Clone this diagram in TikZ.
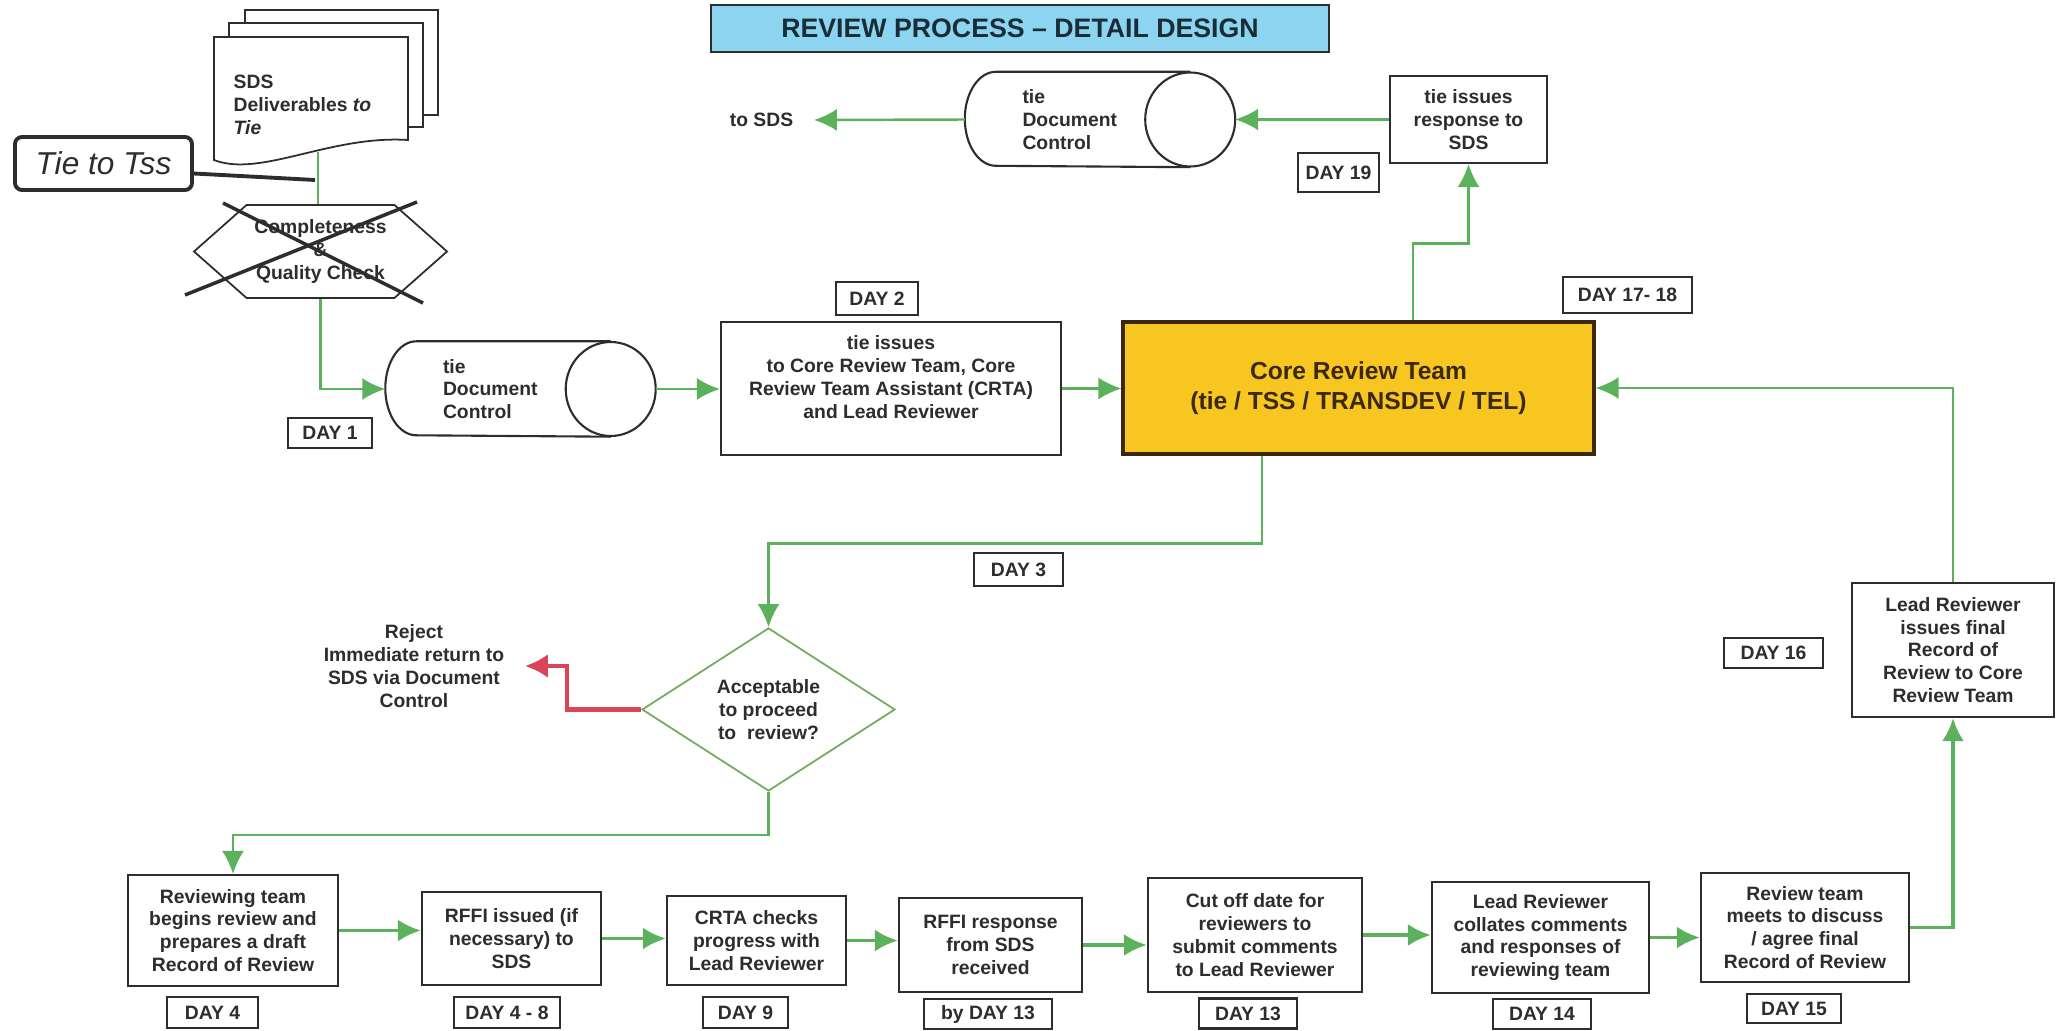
\documentclass[tikz,border=0pt]{standalone}
\usepackage{fontspec}
\setmainfont{Liberation Sans}
\usetikzlibrary{arrows.meta,calc,shapes.geometric,shapes.symbols}

\definecolor{flowgreen}{RGB}{92,178,92}
\definecolor{rejectred}{RGB}{220,68,88}
\definecolor{titleblue}{RGB}{140,212,240}
\definecolor{titleink}{RGB}{25,45,55}
\definecolor{coreyellow}{RGB}{247,198,32}
\definecolor{corebrown}{RGB}{60,40,12}
\definecolor{inkgray}{RGB}{45,45,45}
\definecolor{diamondgreen}{RGB}{112,172,92}

\tikzset{
  txt/.style={font=\fontsize{5.5}{6.5}\selectfont\bfseries, text=inkgray, align=center},
  stepbox/.style={txt, shape=rectangle, draw=inkgray, line width=0.6pt, fill=white, inner sep=0pt},
  daybox/.style={txt, shape=rectangle, draw=inkgray, line width=0.6pt, fill=white, inner sep=0pt},
  docctrl/.style={txt, align=left, text width=1.41cm, inner xsep=0.26cm, inner ysep=0pt, minimum height=0.94cm},
  flow/.style={draw=flowgreen, line width=0.7pt, -{Latex[length=2.3mm,width=2.2mm]}},
  flowthick/.style={flow, line width=1.1pt},
  rejectflow/.style={draw=rejectred, line width=1.2pt, -{Latex[length=2.3mm,width=2.4mm]}}
}

\begin{document}
\begin{tikzpicture}
  % Paths, nodes and wires:
  \useasboundingbox (0,0) rectangle (20.62,10.30);
  \node[shape=rectangle, draw=inkgray, line width=0.6pt, fill=titleblue, minimum width=6.18cm, minimum height=0.47cm, font=\fontsize{7.6}{9}\selectfont\bfseries, text=titleink] (title) at (10.20,10.015) {REVIEW PROCESS – DETAIL DESIGN};

  \draw[line width=0.5pt, draw=inkgray, fill=white] (2.45,9.15) rectangle (4.38,10.20);
  \draw[line width=0.5pt, draw=inkgray, fill=white] (2.29,9.03) rectangle (4.23,10.07);
  \draw[line width=0.5pt, draw=inkgray, fill=white] (2.14,8.70) -- (2.14,9.93) -- (4.08,9.93) -- (4.08,8.90) .. controls (3.30,8.95) and (2.60,8.52) .. (2.14,8.70) -- cycle;
  \node[txt, align=left, anchor=west, inner sep=0pt] (sds) at (2.33,9.25) {SDS\\Deliverables \textit{to}\\\textit{Tie}};
  \coordinate (sdsb) at (3.18,8.78);

  \node[shape=rectangle, rounded corners=2pt, draw=inkgray, line width=1.1pt, minimum width=1.77cm, minimum height=0.53cm, font=\fontsize{9}{10}\selectfont\itshape, text=inkgray] (tss) at (1.035,8.665) {Tie to Tss};
  \coordinate (tssend) at (3.15,8.50);

  \node[txt, shape=signal, signal to=east and west, signal pointer angle=83, draw=inkgray, line width=0.5pt, fill=white, minimum width=2.53cm, minimum height=0.93cm, inner sep=0pt] (chk) at (3.205,7.785) {Completeness\\\&\\Quality Check};

  \node[docctrl] (dc1) at (5.135,6.41) {tie\\Document\\Control};
  \draw[line width=0.6pt, draw=inkgray] (dc1.north east) -- (dc1.north west) arc[start angle=90, end angle=270, x radius=0.31cm, y radius=0.47cm] -- (dc1.south east);
  \draw[line width=0.6pt, draw=inkgray] (dc1.east) ellipse[x radius=0.45cm, y radius=0.47cm];
  \coordinate (dc1w) at ($(dc1.west)+(-0.31,0)$);
  \coordinate (dc1e) at ($(dc1.east)+(0.45,0)$);
  \node[daybox, minimum width=0.84cm, minimum height=0.30cm] (day1) at (3.30,5.97) {DAY 1};

  \node[stepbox, minimum width=3.40cm, minimum height=1.33cm] (issue) at (8.91,6.415) {tie issues\\to Core Review Team, Core\\Review Team Assistant (CRTA)\\and Lead Reviewer\\\mbox{}};
  \node[daybox, minimum width=0.82cm, minimum height=0.33cm] (day2) at (8.77,7.315) {DAY 2};
  \node[stepbox, fill=coreyellow, draw=corebrown, line width=0.9pt, minimum width=4.71cm, minimum height=1.32cm, font=\fontsize{7}{8.5}\selectfont\bfseries, text=corebrown] (core) at (13.585,6.42) {Core Review Team\\(tie / TSS / TRANSDEV / TEL)};
  \node[daybox, minimum width=1.29cm, minimum height=0.36cm] (day1718) at (16.275,7.35) {DAY 17- 18};

  \node[stepbox, minimum width=1.57cm, minimum height=0.87cm] (resp) at (14.685,9.105) {tie issues\\response to\\SDS};
  \node[daybox, minimum width=0.81cm, minimum height=0.39cm] (day19) at (13.385,8.575) {DAY 19};
  \node[docctrl] (dc2) at (10.93,9.105) {tie\\Document\\Control};
  \draw[line width=0.6pt, draw=inkgray] (dc2.north east) -- (dc2.north west) arc[start angle=90, end angle=270, x radius=0.31cm, y radius=0.47cm] -- (dc2.south east);
  \draw[line width=0.6pt, draw=inkgray] (dc2.east) ellipse[x radius=0.45cm, y radius=0.47cm];
  \coordinate (dc2w) at ($(dc2.west)+(-0.31,0)$);
  \coordinate (dc2e) at ($(dc2.east)+(0.45,0)$);
  \node[txt, inner xsep=0.2cm] (tosds) at (7.615,9.10) {to SDS};

  \node[daybox, minimum width=0.89cm, minimum height=0.33cm] (day3) at (10.185,4.605) {DAY 3};
  \node[txt, shape=diamond, draw=diamondgreen, line width=0.5pt, fill=white, minimum width=2.53cm, minimum height=1.59cm, inner sep=0pt] (dec) at (7.685,3.205) {Acceptable\\to proceed\\to\ \ review?};
  \node[txt, inner xsep=0.2cm] (rej) at (4.14,3.64) {Reject\\Immediate return to\\SDS via Document\\Control};

  \node[daybox, minimum width=0.99cm, minimum height=0.30cm] (day16) at (17.735,3.77) {DAY 16};
  \node[stepbox, minimum width=2.02cm, minimum height=1.34cm] (fin) at (19.53,3.80) {Lead Reviewer\\issues final\\Record of\\Review to Core\\Review Team};

  \node[stepbox, minimum width=2.10cm, minimum height=1.11cm] (rev) at (2.33,0.995) {Reviewing team\\begins review and\\prepares a draft\\Record of Review};
  \node[daybox, minimum width=0.91cm, minimum height=0.31cm] (day4) at (2.125,0.175) {DAY 4};
  \node[stepbox, minimum width=1.79cm, minimum height=0.93cm] (rffi) at (5.115,0.915) {RFFI issued (if\\necessary) to\\SDS};
  \node[daybox, minimum width=1.06cm, minimum height=0.31cm] (day48) at (5.07,0.175) {DAY 4 - 8};
  \node[stepbox, minimum width=1.79cm, minimum height=0.89cm] (crta) at (7.565,0.895) {CRTA checks\\progress with\\Lead Reviewer};
  \node[daybox, minimum width=0.85cm, minimum height=0.31cm] (day9) at (7.455,0.175) {DAY 9};
  \node[stepbox, minimum width=1.83cm, minimum height=0.94cm] (rffiresp) at (9.905,0.85) {RFFI response\\from SDS\\received};
  \node[daybox, minimum width=1.28cm, minimum height=0.30cm] (byday13) at (9.88,0.16) {by DAY 13};
  \node[stepbox, minimum width=2.14cm, minimum height=1.14cm] (cutoff) at (12.55,0.95) {Cut off date for\\reviewers to\\submit comments\\to Lead Reviewer};
  \node[daybox, minimum width=0.98cm, minimum height=0.30cm] (day13) at (12.48,0.165) {DAY 13};
  \node[stepbox, minimum width=2.17cm, minimum height=1.11cm] (collate) at (15.405,0.925) {Lead Reviewer\\collates comments\\and responses of\\reviewing team};
  \node[daybox, minimum width=0.98cm, minimum height=0.30cm] (day14) at (15.42,0.16) {DAY 14};
  \node[stepbox, minimum width=2.08cm, minimum height=1.09cm] (meet) at (18.05,1.025) {Review team\\meets to discuss\\/ agree final\\Record of Review};
  \node[daybox, minimum width=0.94cm, minimum height=0.29cm] (day15) at (17.94,0.215) {DAY 15};

  \draw[draw=flowgreen, line width=0.7pt] (sdsb) -- (sdsb |- chk.north);
  \draw[line width=1.1pt, draw=inkgray] ([yshift=-0.1cm]tss.east) -- (tssend);
  \draw[line width=1pt, draw=inkgray] (1.85,7.35) -- (4.17,8.28);
  \draw[line width=1pt, draw=inkgray] (2.23,8.27) -- (4.23,7.27);
  \draw[flow] (chk.south) |- (dc1w);
  \draw[flow] (dc1e) -- (dc1e -| issue.west);
  \draw[flow] (issue.east) -- (issue.east -| core.west);
  \draw[flow] ([xshift=0.545cm]core.north) -- ++(0,0.77) -| (resp.south);
  \draw[flow] (resp.west) -- (dc2e);
  \draw[flow] (dc2w) -- (tosds.east);
  \draw[flow] ([xshift=-0.965cm]core.south) -- ++(0,-0.88) -| (dec.north);
  \draw[rejectflow] (dec.west) -- ++(-0.74,0) |- (rej.east);
  \draw[flow] (dec.south) -- ++(0,-0.43) -| (rev.north);
  \draw[flowthick] (rev.east) -- (rev.east -| rffi.west);
  \draw[flowthick] (rffi.east) -- (rffi.east -| crta.west);
  \draw[flowthick] (crta.east) -- (crta.east -| rffiresp.west);
  \draw[flowthick] (rffiresp.east) -- (rffiresp.east -| cutoff.west);
  \draw[flowthick] (cutoff.east) -- (cutoff.east -| collate.west);
  \draw[flowthick] (collate.east) -- (collate.east -| meet.west);
  \draw[flowthick] (meet.east) -| (fin.south);
  \draw[flow] (fin.north) |- (core.east);
\end{tikzpicture}
\end{document}
